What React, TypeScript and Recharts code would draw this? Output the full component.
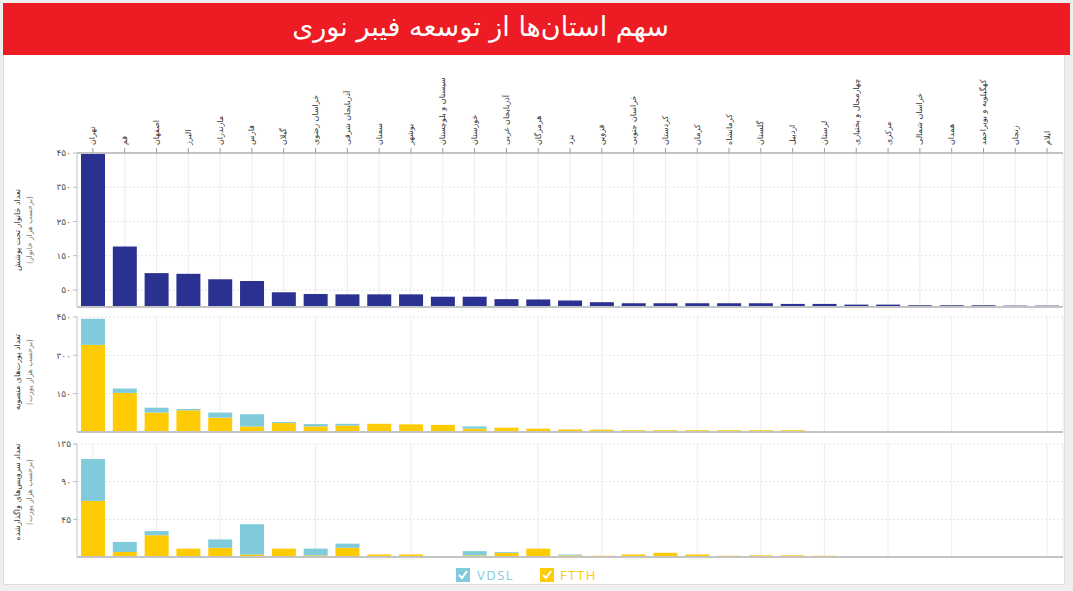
import React from 'react';
import { BarChart, Bar, XAxis, YAxis, CartesianGrid, ReferenceLine } from 'recharts';

const provinces = ['تهران','قم','اصفهان','البرز','مازندران','فارس','گیلان','خراسان رضوی','آذربایجان شرقی','سمنان','بوشهر','سیستان و بلوچستان','خوزستان','آذربایجان غربی','هرمزگان','یزد','قزوین','خراسان جنوبی','کردستان','کرمان','کرمانشاه','گلستان','اردبیل','لرستان','چهارمحال و بختیاری','مرکزی','خراسان شمالی','همدان','کهگیلویه و بویراحمد','زنجان','ایلام'];

const households = [447,177,99,97,81,76,43,38,37,37,37,30,30,23,22,19,14,11,11,11,11,11,9,9,7,7,5,5,5,4,4];

const portsFTTH = [341,153,76,85,56,22,35,22,25,32,30,28,13,17,13,10,9,7,7,7,7,7,7,4,4,4,4,4,4,4,4];
const portsVDSL = [102,17,19,5,20,47,4,9,7,0,0,0,9,0,0,0,0,0,0,0,0,0,0,0,0,0,0,0,0,0,0];

const subsFTTH = [67,6,26,10,11,3,10,2,11,3,3,1,2,5,10,2,1.5,3,5,3,1.5,2,2,1.5,1,1,1,0.5,0.5,0.5,0.5];
const subsVDSL = [50,12,5,0,10,36,0,8,5,0,0,0,5,1,0,1,0,0,0,0,0,0,0,0,0,0,0,0,0,0,0];

const ticksTop = [50,150,250,350,450];
const ticksMid = [150,300,450];
const ticksBot = [45,90,135];

const title = 'سهم استان‌ها از توسعه فیبر نوری';
const yLabels = [
  ['تعداد خانوار تحت پوشش', '(برحسب هزار خانوار)'],
  ['تعداد پورت‌های منصوبه', '(برحسب هزار پورت)'],
  ['تعداد سرویس‌های واگذارشده', '(برحسب هزار پورت)'],
];

const BLUE = '#2b3190';
const YELLOW = '#ffcb05';
const CYAN = '#7fcbdc';
const FONT = '"DejaVu Sans", sans-serif';

const data = provinces.map((p, i) => ({
  name: p,
  households: households[i],
  portsFTTH: portsFTTH[i],
  portsVDSL: portsVDSL[i],
  subsFTTH: subsFTTH[i],
  subsVDSL: subsVDSL[i],
}));

const fa = (v: any) => String(v).replace(/\d/g, (d) => '۰۱۲۳۴۵۶۷۸۹'[+d]);

const TopTick = (props: any) => {
  const { x, y, payload } = props;
  return (
    <text
      transform={`translate(${x},${y}) rotate(-90)`}
      textAnchor="start"
      dominantBaseline="central"
      fontSize={8}
      fill="#333"
      fontFamily={FONT}
    >
      {payload.value}
    </text>
  );
};

const W = 1073;
const margin = (t: number, b: number) => ({ top: t, right: 10, left: 0, bottom: b });
const yTick = { fontSize: 9, fill: '#555', fontFamily: FONT };

export default function App() {
  return (
    <div style={{ position: 'absolute', left: 0, top: 0, width: 1073, height: 591, background: '#efefef', fontFamily: FONT, overflow: 'hidden' }}>
      <div style={{ position: 'absolute', left: 3, top: 3, width: 1060, height: 580, background: '#fff', border: '1px solid #ddd' }} />
      <div style={{ position: 'absolute', left: 3, top: 3, width: 1067, height: 52, background: '#ed1c24', color: '#fff' }}>
        <div style={{ position: 'absolute', left: 0, width: 955, textAlign: 'center', fontSize: 27, fontFamily: FONT, direction: 'rtl', top: 8 }}>{title}</div>
      </div>

      <div style={{ position: 'absolute', left: 0, top: 56 }}>
        <BarChart width={W} height={254} data={data} margin={margin(7, 3)} barSize={24}>
          <CartesianGrid vertical={false} stroke="#e2e2e2" strokeDasharray="2 2" />
          <CartesianGrid horizontal={false} stroke="#ececec" />
          <XAxis dataKey="name" orientation="top" height={90} interval={0} tick={<TopTick />} tickSize={5} tickMargin={3} axisLine={{ stroke: '#c4c4c4', strokeWidth: 2 }} tickLine={{ stroke: '#999' }} />
          <YAxis width={77} domain={[0, 450]} ticks={ticksTop} tickFormatter={fa} tick={yTick} axisLine={{ stroke: '#ccc' }} tickLine={{ stroke: '#bbb' }} tickSize={4} />
          <ReferenceLine y={0} stroke="#c4c4c4" strokeWidth={2} />
          <Bar dataKey="households" fill={BLUE} isAnimationActive={false} />
        </BarChart>
      </div>

      <div style={{ position: 'absolute', left: 0, top: 312 }}>
        <BarChart width={W} height={123} data={data} margin={margin(5, 3)} barSize={24}>
          <CartesianGrid vertical={false} stroke="#e2e2e2" strokeDasharray="2 2" />
          <CartesianGrid horizontal={false} stroke="#ececec" />
          <XAxis dataKey="name" hide />
          <YAxis width={77} domain={[0, 450]} ticks={ticksMid} tickFormatter={fa} tick={yTick} axisLine={{ stroke: '#ccc' }} tickLine={{ stroke: '#bbb' }} tickSize={4} />
          <ReferenceLine y={0} stroke="#c4c4c4" strokeWidth={2} />
          <Bar dataKey="portsFTTH" stackId="p" fill={YELLOW} isAnimationActive={false} />
          <Bar dataKey="portsVDSL" stackId="p" fill={CYAN} isAnimationActive={false} />
        </BarChart>
      </div>

      <div style={{ position: 'absolute', left: 0, top: 436 }}>
        <BarChart width={W} height={124} data={data} margin={margin(8, 3)} barSize={24}>
          <CartesianGrid vertical={false} stroke="#e2e2e2" strokeDasharray="2 2" />
          <CartesianGrid horizontal={false} stroke="#ececec" />
          <XAxis dataKey="name" hide />
          <YAxis width={77} domain={[0, 135]} ticks={ticksBot} tickFormatter={fa} tick={yTick} axisLine={{ stroke: '#ccc' }} tickLine={{ stroke: '#bbb' }} tickSize={4} />
          <ReferenceLine y={0} stroke="#c4c4c4" strokeWidth={2} />
          <Bar dataKey="subsFTTH" stackId="s" fill={YELLOW} isAnimationActive={false} />
          <Bar dataKey="subsVDSL" stackId="s" fill={CYAN} isAnimationActive={false} />
        </BarChart>
      </div>

      <svg style={{ position: 'absolute', left: 0, top: 0, pointerEvents: 'none' }} width={W} height={591}>
        {[230, 372, 492].map((cy, i) => (
          <g key={i}>
            <text transform={`translate(17,${cy}) rotate(-90)`} textAnchor="middle" dominantBaseline="central" fontSize={8} fill="#333" fontFamily={FONT}>{yLabels[i][0]}</text>
            <text transform={`translate(29,${cy}) rotate(-90)`} textAnchor="middle" dominantBaseline="central" fontSize={7.5} fill="#777" fontFamily={FONT}>{yLabels[i][1]}</text>
          </g>
        ))}
      </svg>

      <div style={{ position: 'absolute', left: 456, top: 566, display: 'flex', alignItems: 'center', fontFamily: '"Open Sans", sans-serif', fontSize: 13, letterSpacing: 1.5 }}>
        <svg width={14} height={14}><rect width={14} height={14} fill={CYAN} /><path d="M3 7 L6 10 L11 3" stroke="#fff" strokeWidth={2} fill="none" /></svg>
        <span style={{ color: CYAN, marginLeft: 7, marginRight: 26 }}>VDSL</span>
        <svg width={14} height={14}><rect width={14} height={14} fill={YELLOW} /><path d="M3 7 L6 10 L11 3" stroke="#fff" strokeWidth={2} fill="none" /></svg>
        <span style={{ color: YELLOW, marginLeft: 6 }}>FTTH</span>
      </div>
    </div>
  );
}
